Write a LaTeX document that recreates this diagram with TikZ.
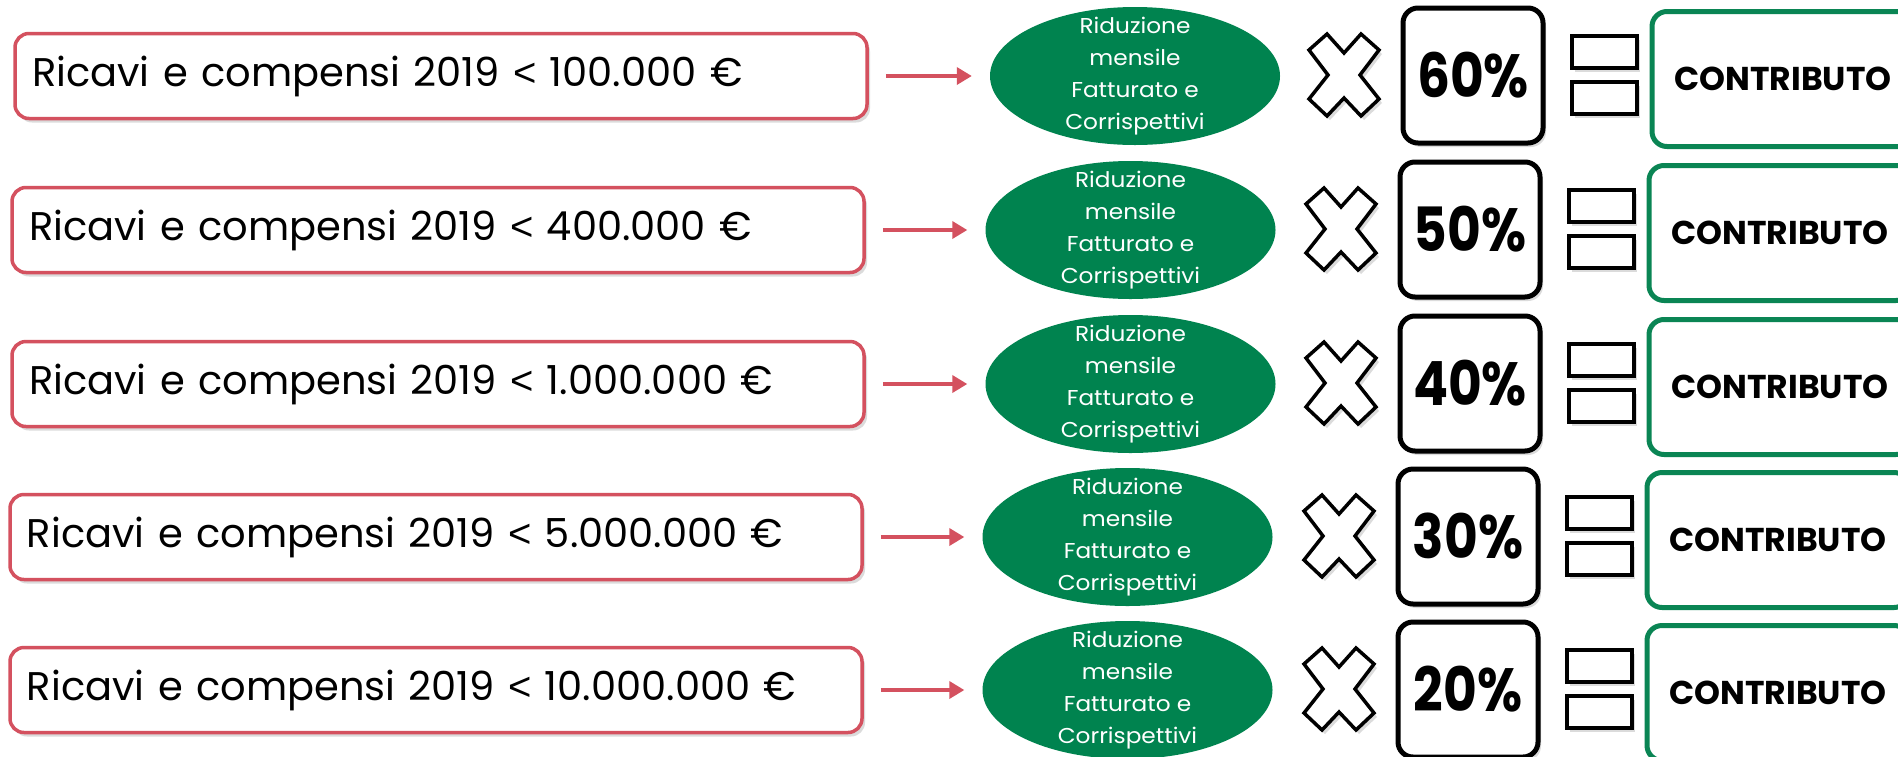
\documentclass[tikz,border=0pt]{standalone}
\usepackage{fontspec}
\usetikzlibrary{shapes.geometric,arrows.meta,shadows}
\newfontfamily\gfont{Poppins}
\newfontfamily\efont[FakeStretch=1.08]{Poppins}
\newfontfamily\pfont[FakeStretch=0.85]{Poppins}
\newfontfamily\lsym{Liberation Sans}
\definecolor{rbord}{HTML}{D4515F}
\definecolor{gfill}{HTML}{00834F}
\definecolor{gbord}{HTML}{0A8554}
\tikzset{
  shad/.style={drop shadow={opacity=0.28, shadow xshift=3pt, shadow yshift=-4pt}},
  lbox/.style={draw=rbord, line width=3.5pt, rounded corners=14pt, fill=white,
    minimum height=85pt, text width=818pt, inner xsep=17pt, inner ysep=0pt,
    align=left, font=\gfont\fontsize{40}{44}\selectfont, shad},
  ell/.style={ellipse, fill=gfill, minimum width=290pt, minimum height=138pt,
    inner sep=0pt},
  elltext/.style={inner sep=0pt, text=white, align=center,
    font=\efont\fontsize{21.5}{32}\selectfont},
  pbox/.style={draw=black, line width=5pt, rounded corners=15pt, fill=white,
    minimum width=140pt, minimum height=135pt, inner sep=0pt,
    font=\pfont\bfseries\fontsize{61}{66}\selectfont, shad},
  eqbar/.style={draw=black, line width=4pt, fill=white, minimum width=65pt,
    minimum height=32pt, inner sep=0pt, shad},
  cbox/.style={draw=gbord, line width=5pt, rounded corners=15pt, fill=white,
    minimum width=262pt, minimum height=135pt, inner sep=0pt,
    font=\gfont\bfseries\fontsize{33}{36}\selectfont},
  xmark/.style={draw=black, line width=3.5pt, fill=white, line join=miter, shad},
  arr/.style={draw=rbord, line width=3.5pt, -{Triangle[length=15pt,width=17pt]},
    shorten <=17pt, shorten >=18pt}
}
\begin{document}
\begin{tikzpicture}[x=1pt,y=-1pt]
\useasboundingbox (0,0) rectangle (1898,756);
\clip (0,0) rectangle (1898,756);
\fill[white] (0,0) rectangle (1898,756);
\foreach \i/\yc/\dx/\amt/\pc in {1/76/0/100.000/60, 2/230/-3/400.000/50, 3/384/-3/1.000.000/40, 4/537/-5/5.000.000/30, 5/690/-5/10.000.000/20}{
  \node[lbox] (L\i) at ({441+(\dx)}, \yc) {Ricavi e compensi 2019 {\lsym <} \amt~€};
  \node[ell] (E\i) at ({1135+1.5*(\dx)}, \yc) {};
  \node[elltext] (T\i) at (E\i.center) {Riduzione\\mensile\\Fatturato e\\Corrispettivi};
  \draw[arr] (L\i.east) -- (E\i.west);
  \coordinate (X\i) at ({1344+(\dx)}, {\yc-1});
  \draw[xmark, shift={(X\i)}] (-35,-25) -- (-17,-41) -- (0,-22) -- (17,-41) -- (35,-25)
     -- (16,0) -- (35,24) -- (17,41) -- (0,23) -- (-17,41) -- (-35,24) -- (-16,0) -- cycle;
  \node[pbox] (P\i) at ({1473+(\dx)}, {\yc-0.5}) {\pc\%};
  \node[eqbar] (Q\i) at ({1604+(\dx)}, {\yc-24}) {};
  \node[eqbar] (R\i) at ({1604+(\dx)}, {\yc+22}) {};
  \node[cbox] (C\i) at ({1783+(\dx)}, {\yc+3}) {CONTRIBUTO};
}
\end{tikzpicture}
\end{document}
